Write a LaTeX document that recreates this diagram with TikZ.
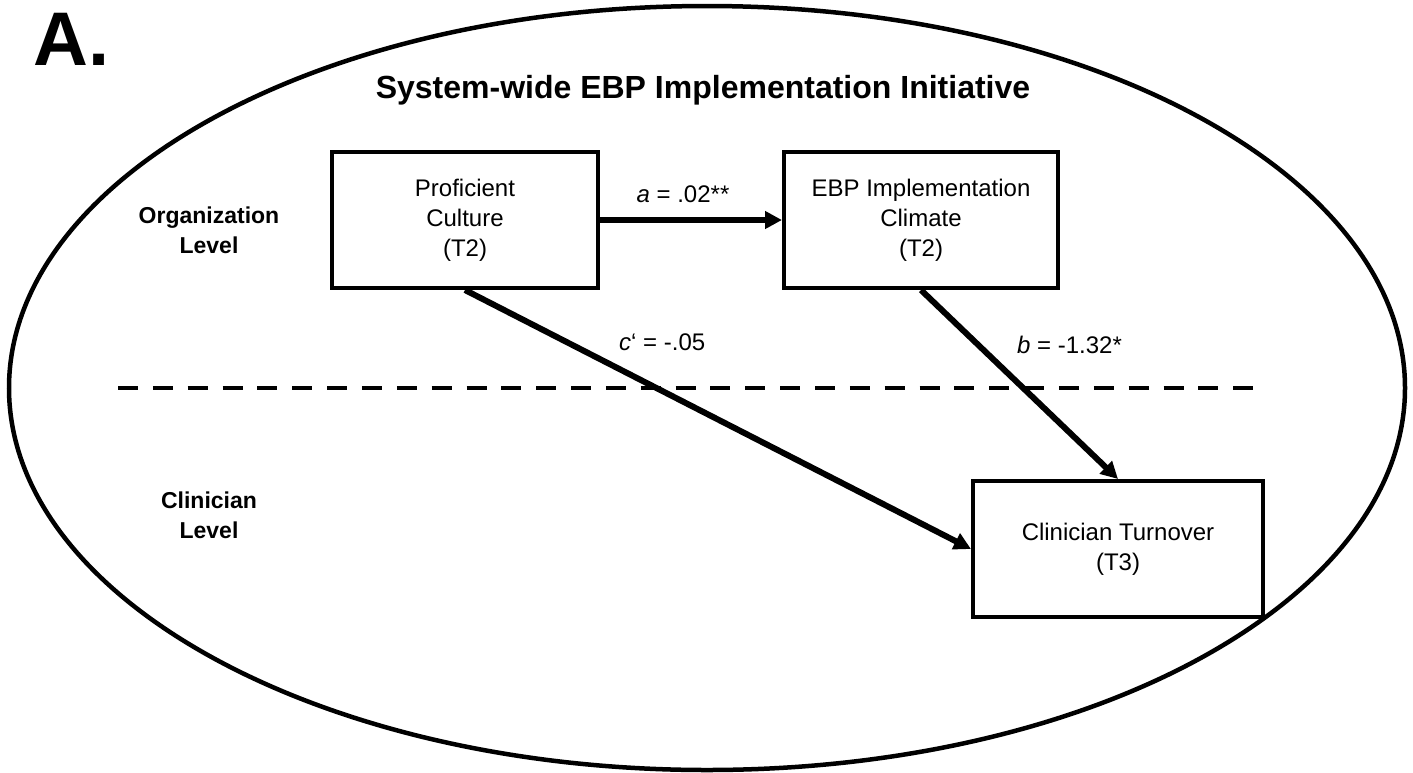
\documentclass[tikz,border=0pt]{standalone}
\usepackage{fontspec}
\setmainfont{Liberation Sans}
\usepackage{tikz}
\usetikzlibrary{positioning}
\usetikzlibrary{shapes,arrows.meta}
\tikzstyle{block} = [rectangle, draw, line width=4pt, align=center,
                minimum height=136pt, font=\fontsize{24}{30}\selectfont]
\tikzstyle{line} = [draw, line width=6pt, -{Triangle[length=17pt,width=17pt]}]
\tikzstyle{level} = [align=center, font=\bfseries\fontsize{23}{30}\selectfont]
\tikzstyle{coef} = [inner sep=0pt, font=\fontsize{24}{30}\selectfont]

\begin{document}
\begin{tikzpicture}[x=1pt,y=-1pt]
            \path[use as bounding box, fill=white] (0,0) rectangle (1413,772);
            \draw[line width=4.5pt] (707,388) ellipse [x radius=698pt, y radius=382pt];
            \draw[line width=4.5pt, dash pattern=on 20pt off 14.85pt] (118,388) -- (1254,388);
            \node[font=\bfseries\fontsize{76}{76}\selectfont, anchor=base west, inner sep=0pt](panel) at (33,65){A.};
            \node[font=\bfseries\fontsize{32}{38}\selectfont](title) at (703,90){System-wide EBP Implementation Initiative};
            \node[level](orglevel) at (209,230){Organization\\Level};
            \node[level](cliniclevel) at (209,515){Clinician\\Level};
            \node[block, minimum width=266pt](culture) at (465,220){Proficient\\Culture\\(T2)};
            \node[block, minimum width=274pt, right=182pt of culture](climate){EBP Implementation\\Climate\\(T2)};
            \node[block, minimum width=290pt, below=189pt of climate, xshift=197pt](turnover){Clinician Turnover\\(T3)};
            \path[line] (culture) -- node[coef, above=14pt, xshift=-8pt]{\textit{a} = .02**} (climate);
            \path[line] (culture.south) -- node[coef, pos=0.2, right=50pt]{\textit{c}‘ = -.05} (turnover.west);
            \path[line] (climate.south) -- node[coef, pos=0.29, right=36pt]{\textit{b} = -1.32*} (turnover.north);
        \end{tikzpicture}
\end{document}
